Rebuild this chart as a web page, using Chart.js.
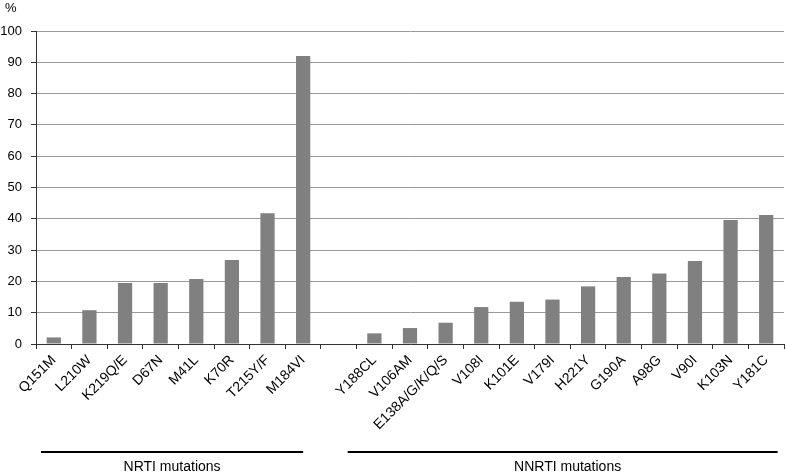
<!DOCTYPE html>
<html lang="en">
<head>
    <meta charset="UTF-8">
    <title>mutations</title>
    <style>
        body { margin: 0; background: #fff; }
        #chartBlock { width: 786px; height: 473px; position: relative; }
    </style>
</head>
<body>
    <div id="chartBlock">
        <canvas id="myChart"></canvas>
    </div>

<script src="https://cdn.jsdelivr.net/npm/chart.js"></script>
<script>
    // categories (empty slot separates the two groups)
    var mutations = ['Q151M', 'L210W', 'K219Q/E', 'D67N', 'M41L', 'K70R', 'T215Y/F', 'M184VI', '',
        'Y188CL', 'V106AM', 'E138A/G/K/Q/S', 'V108I', 'K101E', 'V179I', 'H221Y', 'G190A', 'A98G', 'V90I', 'K103N', 'Y181C'];
    var percents = [2.1, 10.8, 19.5, 19.5, 20.8, 26.8, 41.8, 92, null,
        3.4, 5.1, 6.8, 11.8, 13.5, 14.2, 18.4, 21.4, 22.5, 26.5, 39.6, 41.2];
    var yTicks = [0, 10, 20, 30, 40, 50, 60, 70, 80, 90, 100];
    // groups: label, first index, last index
    var groupNames = ['NRTI mutations', 'NNRTI mutations'];
    var groupFrom = [0, 9];
    var groupTo = [7, 20];

    var groupPlugin = {
        id: 'groups',
        afterDraw: function (chart) {
            var ctx = chart.ctx;
            var xs = chart.scales.x;
            var step = xs.getPixelForValue(1) - xs.getPixelForValue(0);
            // the underlines in the original don't sit exactly on the slot edges
            var startShift = [-0.36, -0.75];
            var endShift = [0, 0.32];
            ctx.save();
            ctx.fillStyle = '#000';
            ctx.strokeStyle = '#000';
            ctx.lineWidth = 2;
            ctx.font = '14px "Liberation Sans", Arial, sans-serif';
            ctx.textAlign = 'center';
            ctx.textBaseline = 'middle';
            for (var i = 0; i < groupNames.length; i++) {
                var x1 = xs.getPixelForValue(groupFrom[i]) + startShift[i] * step;
                var x2 = xs.getPixelForValue(groupTo[i]) + endShift[i] * step;
                ctx.beginPath();
                ctx.moveTo(x1, 452);
                ctx.lineTo(x2, 452);
                ctx.stroke();
                ctx.fillText(groupNames[i], (x1 + x2) / 2 + (i == 1 ? 5 : 0), 467);
            }
            ctx.font = '13px "Liberation Sans", Arial, sans-serif';
            ctx.textAlign = 'left';
            ctx.fillText('%', 5, 8);
            ctx.restore();
        }
    };

    Chart.defaults.font.family = '"Liberation Sans", Arial, sans-serif';
    Chart.defaults.font.size = 13;
    Chart.defaults.color = '#000';

    var ctx = document.getElementById('myChart').getContext('2d');
    var newBarChart = new Chart(ctx, {
        type: 'bar',
        data: {
            labels: mutations,
            datasets: [{
                data: percents,
                backgroundColor: '#808080',
                borderWidth: 0,
                barPercentage: 0.4,
                categoryPercentage: 1.0
            }]
        },
        options: {
            responsive: true,
            maintainAspectRatio: false,
            animation: false,
            layout: { padding: { top: 31, right: 2, bottom: 0, left: 0 } },
            plugins: {
                legend: { display: false },
                tooltip: { enabled: false }
            },
            scales: {
                x: {
                    offset: true,
                    grid: {
                        offset: true,
                        drawOnChartArea: false,
                        drawTicks: true,
                        tickLength: 5,
                        color: '#333'
                    },
                    border: { color: '#333', width: 1 },
                    ticks: {
                        autoSkip: false,
                        minRotation: 45,
                        maxRotation: 45,
                        padding: 3,
                        color: '#000',
                        font: { size: 14 }
                    },
                    afterFit: function (scale) { scale.height = 129; }
                },
                y: {
                    min: 0,
                    max: 100,
                    afterBuildTicks: function (scale) {
                        scale.ticks = yTicks.map(function (v) { return { value: v }; });
                    },
                    grid: {
                        color: '#999',
                        lineWidth: 1,
                        tickLength: 5,
                        tickColor: '#333'
                    },
                    border: { color: '#333', width: 1 },
                    ticks: { padding: 9, color: '#000' },
                    afterFit: function (scale) { scale.width = 36; }
                }
            }
        },
        plugins: [groupPlugin]
    });
</script>
</body>
</html>
